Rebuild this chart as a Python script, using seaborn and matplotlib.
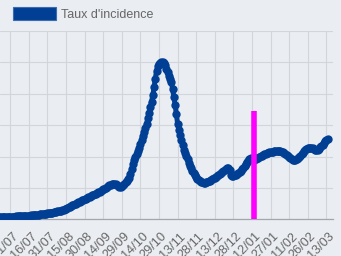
import matplotlib
matplotlib.use("Agg")
import matplotlib.pyplot as plt
import matplotlib.transforms as mtransforms
import seaborn as sns
import pandas as pd
import numpy as np
from matplotlib.patches import Patch

# ---- data ----
start_date = "2020-06-22"
incidence = [
    6, 6, 6, 6, 6, 6, 6, 7, 7,
    7, 7, 8, 8, 8, 9, 9, 9, 10, 10,
    10, 11, 11, 11, 12, 12, 12, 13, 13, 13,
    14, 14, 15, 15, 16, 16, 17, 17, 18, 18,
    19, 19, 20, 21, 21, 22, 23, 24, 25, 26,
    27, 28, 30, 31, 33, 34, 36, 38, 40, 42,
    44, 46, 48, 50, 52, 54, 56, 58, 60, 62,
    64, 66, 68, 70, 72, 74, 76, 78, 80, 82,
    84, 86, 88, 90, 93, 95, 98, 100, 103, 106,
    108, 110, 111, 112, 112, 111, 109, 106, 104, 103,
    105, 108, 113, 118, 123, 128, 132, 145, 160, 176,
    188, 198, 208, 218, 228, 240, 253, 266, 278, 290,
    305, 322, 340, 357, 375, 395, 420, 448, 472, 488,
    495, 499, 501, 501, 499, 492, 480, 470, 458, 448,
    438, 415, 390, 365, 335, 305, 285, 268, 252, 238,
    222, 210, 202, 192, 180, 170, 162, 153, 146, 140,
    134, 128, 124, 121, 119, 118, 117, 117, 118, 119,
    121, 123, 125, 127, 130, 133, 136, 139, 142, 145,
    148, 151, 154, 157, 160, 163, 164, 158, 140, 137,
    138, 140, 141, 143, 147, 150, 155, 160, 165, 170,
    175, 181, 187, 193, 196, 192, 188, 190, 192, 194,
    196, 198, 201, 203, 205, 207, 209, 210, 212, 213,
    214, 215, 216, 217, 218, 218, 218, 218, 217, 215,
    213, 210, 207, 204, 201, 197, 194, 191, 189, 188,
    189, 191, 194, 198, 202, 207, 212, 217, 221, 224,
    226, 227, 227, 227, 226, 224, 222, 221, 222, 225,
    229, 233, 238, 243, 248, 252, 255,
]
series_label = "Taux d'incidence"
marker_date = "2021-01-14"
marker_height = 345
tick_dates = pd.date_range("2020-07-01", periods=18, freq="15D")
tick_labels = [d.strftime("%d/%m") for d in tick_dates]

dates = pd.date_range(start_date, periods=len(incidence), freq="D")
df = pd.DataFrame({"date": dates, "value": incidence})

BG = "#eaedf1"
BLUE = "#003f93"
GRID = "#d2d6db"
TXT = "#666666"

sns.set_theme(style="white")
plt.rcParams["font.family"] = ["Liberation Sans", "DejaVu Sans"]

fig = plt.figure(figsize=(3.41, 2.56), dpi=100, facecolor=BG)
ax = fig.add_axes([0.0, 0.1434, 333 / 341, 0.8789 - 0.1434])
ax.set_facecolor(BG)

sns.lineplot(data=df, x="date", y="value", ax=ax, color=BLUE, linewidth=3.6,
             marker="o", markersize=6.0, markeredgewidth=0, zorder=3,
             legend=False)

ax.vlines(pd.Timestamp(marker_date), 0, marker_height, colors="#ff00ff",
          linewidth=4.0, zorder=4)

ax.set_ylim(0, 600)
ax.set_yticks(np.arange(0, 601, 100))
ax.set_yticklabels([])
ax.set_xlim(pd.Timestamp("2020-07-01") - pd.Timedelta(days=8.3),
            pd.Timestamp("2020-07-01") + pd.Timedelta(days=260.4))
ax.set_xticks(tick_dates)
ax.set_xticklabels(tick_labels, rotation=45, ha="right", rotation_mode="anchor",
                   fontsize=9.2, color=TXT)
ax.tick_params(axis="x", length=3, width=0.8, color=GRID, pad=5)
ax.tick_params(axis="y", length=0)
offset = mtransforms.ScaledTranslation(2 / 100, 0, fig.dpi_scale_trans)
for lbl in ax.get_xticklabels():
    lbl.set_transform(lbl.get_transform() + offset)
ax.grid(True, color=GRID, linewidth=0.8)
ax.set_axisbelow(True)
ax.set_xlabel("")
ax.set_ylabel("")
for s in ["left", "right", "top"]:
    ax.spines[s].set_visible(False)
ax.spines["bottom"].set_color("#a3a6aa")
ax.spines["bottom"].set_linewidth(0.9)

handle = Patch(facecolor=BLUE, edgecolor="#3a6bb3", linewidth=0.8)
fig.legend(handles=[handle], labels=[series_label], loc="upper left",
           bbox_to_anchor=(13 / 341, 1 - 7 / 256), frameon=False,
           fontsize=9, labelcolor=TXT, handlelength=3.45, handleheight=1.2,
           handletextpad=0.4, borderpad=0, borderaxespad=0)

fig.savefig("out.png", dpi=100, facecolor=BG)
